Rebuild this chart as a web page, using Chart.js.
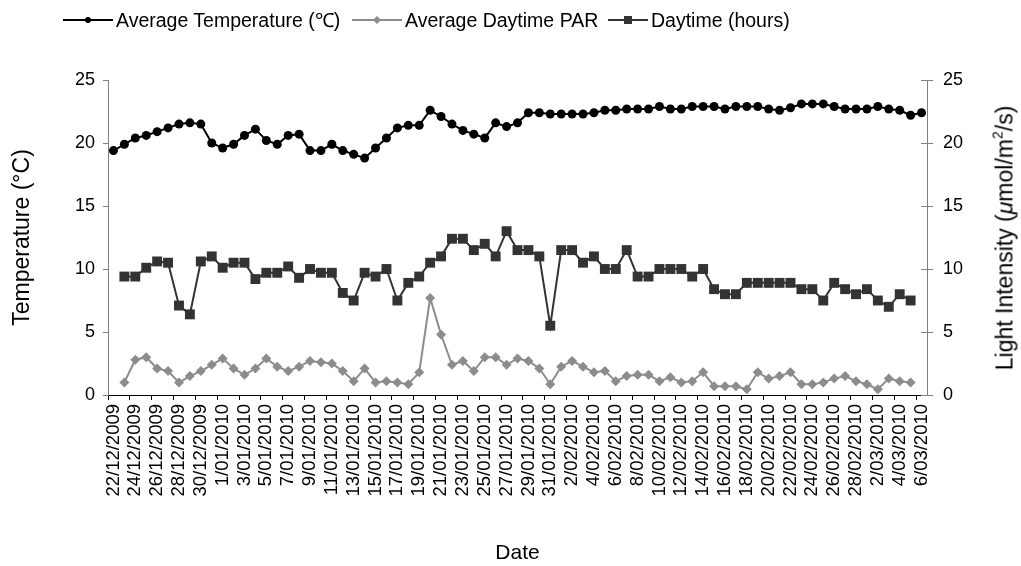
<!DOCTYPE html>
<html>
<head>
<meta charset="utf-8">
<script src="https://cdn.jsdelivr.net/npm/chart.js@4.4.1/dist/chart.umd.min.js"></script>
<style>
  html, body { margin: 0; padding: 0; background: #fff; }
  #wrap { position: relative; width: 1021px; height: 566px; }
  #lineChart { position: absolute; left: 0; top: 0; }
  .item {
    position: absolute; top: 8px; height: 24px; line-height: 24px;
    font-family: 'Liberation Sans', Arial, sans-serif; font-size: 19.5px; color: #000;
    white-space: nowrap; display: flex; align-items: center;
  }
  .item svg { margin-right: 3px; }
  #rightTitle {
    position: absolute; left: 1005px; top: 238px;
    transform: translate(-50%, -50%) rotate(-90deg);
    font-family: 'Liberation Sans', Arial, sans-serif; font-size: 23px; color: #000;
    white-space: nowrap;
  }
  #rightTitle sup { font-size: 14px; vertical-align: 10px; line-height: 0; }
</style>
</head>
<body>
<div id="wrap">
  <canvas id="lineChart" width="1021" height="566"></canvas>
  <div class="item" style="left:63px">
    <svg width="50" height="12"><line x1="0" y1="6" x2="50" y2="6" stroke="#000" stroke-width="2"/><circle cx="25" cy="6" r="3" fill="#000"/></svg>Average Temperature (℃)
  </div>
  <div class="item" style="left:352px">
    <svg width="50" height="12"><line x1="0" y1="6" x2="50" y2="6" stroke="#8c8c8c" stroke-width="2"/><path d="M25 2 L29 6 L25 10 L21 6 Z" fill="#8c8c8c"/></svg>Average Daytime PAR
  </div>
  <div class="item" style="left:608px">
    <svg width="40" height="12"><line x1="0" y1="6" x2="40" y2="6" stroke="#333" stroke-width="2"/><rect x="16" y="2" width="8" height="8" fill="#333"/></svg>Daytime (hours)
  </div>
  <div id="rightTitle">Light Intensity (<i>μ</i>mol/m<sup>2</sup>/s)</div>
</div>
<script>
const dates = [
  '22/12/2009', '23/12/2009', '24/12/2009', '25/12/2009', '26/12/2009', '27/12/2009', '28/12/2009', '29/12/2009', '30/12/2009', '31/12/2009',
  '1/01/2010', '2/01/2010', '3/01/2010', '4/01/2010', '5/01/2010', '6/01/2010', '7/01/2010', '8/01/2010', '9/01/2010', '10/01/2010',
  '11/01/2010', '12/01/2010', '13/01/2010', '14/01/2010', '15/01/2010', '16/01/2010', '17/01/2010', '18/01/2010', '19/01/2010', '20/01/2010',
  '21/01/2010', '22/01/2010', '23/01/2010', '24/01/2010', '25/01/2010', '26/01/2010', '27/01/2010', '28/01/2010', '29/01/2010', '30/01/2010',
  '31/01/2010', '1/02/2010', '2/02/2010', '3/02/2010', '4/02/2010', '5/02/2010', '6/02/2010', '7/02/2010', '8/02/2010', '9/02/2010',
  '10/02/2010', '11/02/2010', '12/02/2010', '13/02/2010', '14/02/2010', '15/02/2010', '16/02/2010', '17/02/2010', '18/02/2010', '19/02/2010',
  '20/02/2010', '21/02/2010', '22/02/2010', '23/02/2010', '24/02/2010', '25/02/2010', '26/02/2010', '27/02/2010', '28/02/2010', '1/03/2010',
  '2/03/2010', '3/03/2010', '4/03/2010', '5/03/2010', '6/03/2010'
];

// average temperature (C), left axis
const avgTemperature = [
  19.4, 19.9, 20.4, 20.6, 20.9, 21.2, 21.5, 21.6, 21.5, 20.0,
  19.6, 19.9, 20.6, 21.1, 20.2, 19.9, 20.6, 20.7, 19.4, 19.4,
  19.9, 19.4, 19.1, 18.8, 19.6, 20.4, 21.2, 21.4, 21.4, 22.6,
  22.1, 21.5, 21.0, 20.7, 20.4, 21.6, 21.3, 21.6, 22.4, 22.4,
  22.3, 22.3, 22.3, 22.3, 22.4, 22.6, 22.6, 22.7, 22.7, 22.7,
  22.9, 22.7, 22.7, 22.9, 22.9, 22.9, 22.7, 22.9, 22.9, 22.9,
  22.7, 22.6, 22.8, 23.1, 23.1, 23.1, 22.9, 22.7, 22.7, 22.7,
  22.9, 22.7, 22.6, 22.2, 22.4
];

// average daytime PAR, right axis
const avgDaytimePar = [
  null, 1.0, 2.8, 3.0, 2.1, 1.9, 1.0, 1.5, 1.9, 2.4,
  2.9, 2.1, 1.6, 2.1, 2.9, 2.25, 1.9, 2.25, 2.7, 2.6,
  2.5, 1.9, 1.1, 2.1, 1.0, 1.1, 1.0, 0.85, 1.8, 7.7,
  4.8, 2.4, 2.7, 1.9, 3.0, 3.0, 2.4, 2.9, 2.7, 2.1,
  0.85, 2.25, 2.7, 2.25, 1.8, 1.9, 1.1, 1.5, 1.6, 1.6,
  1.1, 1.4, 1.0, 1.1, 1.8, 0.7, 0.7, 0.7, 0.45, 1.8,
  1.3, 1.5, 1.8, 0.85, 0.85, 1.0, 1.3, 1.5, 1.1, 0.85,
  0.45, 1.3, 1.1, 1.0, null
];

// daytime length (hours), left axis
const daytimeHours = [
  null, 9.4, 9.4, 10.1, 10.6, 10.5, 7.1, 6.4, 10.6, 11.0,
  10.1, 10.5, 10.5, 9.2, 9.7, 9.7, 10.2, 9.3, 10.0, 9.7,
  9.7, 8.1, 7.5, 9.7, 9.4, 10.0, 7.5, 8.9, 9.4, 10.5,
  11.0, 12.4, 12.4, 11.5, 12.0, 11.0, 13.0, 11.5, 11.5, 11.0,
  5.5, 11.5, 11.5, 10.5, 11.0, 10.0, 10.0, 11.5, 9.4, 9.4,
  10.0, 10.0, 10.0, 9.4, 10.0, 8.4, 8.0, 8.0, 8.9, 8.9,
  8.9, 8.9, 8.9, 8.4, 8.4, 7.5, 8.9, 8.4, 8.0, 8.4,
  7.5, 7.0, 8.0, 7.5, null
];

const axisMin = 0;
const axisMax = 25;
const axisStep = 5;

const fontFamily = "'Liberation Sans', Arial, sans-serif";

// right axis ticks cross the axis line, draw the inner half
const innerTicks = {
    id: 'innerTicks',
    afterDraw: (chart) => {
        const scale = chart.scales.y1;
        const ctx = chart.ctx;
        ctx.save();
        ctx.strokeStyle = '#808080';
        ctx.lineWidth = 1;
        scale.ticks.forEach((tick) => {
            const y = Math.round(scale.getPixelForValue(tick.value)) + 0.5;
            ctx.beginPath();
            ctx.moveTo(scale.left - 6, y);
            ctx.lineTo(scale.left, y);
            ctx.stroke();
        });
        ctx.restore();
    }
};

const ctx = document.getElementById('lineChart').getContext('2d');
new Chart(ctx, {
    type: 'line',
    data: {
        labels: dates,
        datasets: [
            {
                label: 'Average Temperature (℃)',
                data: avgTemperature,
                yAxisID: 'y',
                borderColor: '#000000',
                backgroundColor: '#000000',
                borderWidth: 2,
                pointStyle: 'circle',
                pointRadius: 4.5,
                pointBorderWidth: 0,
            },
            {
                label: 'Average Daytime PAR',
                data: avgDaytimePar,
                yAxisID: 'y1',
                borderColor: '#8c8c8c',
                backgroundColor: '#8c8c8c',
                borderWidth: 2,
                pointStyle: 'rectRot',
                pointRadius: 5,
                pointBorderWidth: 0,
            },
            {
                label: 'Daytime (hours)',
                data: daytimeHours,
                yAxisID: 'y',
                borderColor: '#333333',
                backgroundColor: '#333333',
                borderWidth: 2,
                pointStyle: 'rect',
                pointRadius: 7,
                pointBorderWidth: 0,
            },
        ],
    },
    options: {
        responsive: false,
        animation: false,
        devicePixelRatio: 1,
        layout: { padding: { top: 80, left: 0, right: 0, bottom: 0 } },
        plugins: {
            legend: { display: false },
            tooltip: { enabled: false },
        },
        scales: {
            x: {
                type: 'category',
                offset: true,
                afterFit: (scale) => { scale.height = 171; },
                border: { display: true, color: '#000000', width: 1 },
                grid: {
                    offset: true,
                    drawOnChartArea: false,
                    drawTicks: true,
                    tickLength: 5,
                    color: (c) => (c.index % 2 === 0 ? '#000000' : 'rgba(0,0,0,0)'),
                },
                ticks: {
                    autoSkip: false,
                    minRotation: 90,
                    maxRotation: 90,
                    padding: 4,
                    color: '#000000',
                    font: { family: fontFamily, size: 18.5 },
                    callback: (value, index) => (index % 2 === 0 ? dates[index] : ''),
                },
                title: {
                    display: true,
                    text: 'Date',
                    color: '#000000',
                    font: { family: fontFamily, size: 21 },
                    padding: { top: 0, bottom: 0 },
                },
            },
            y: {
                position: 'left',
                min: axisMin,
                max: axisMax,
                afterFit: (scale) => { scale.width = 108; },
                border: { display: true, color: '#808080', width: 1 },
                grid: { drawOnChartArea: false, tickLength: 5, color: '#808080' },
                ticks: {
                    stepSize: axisStep,
                    padding: 8,
                    color: '#000000',
                    font: { family: fontFamily, size: 18 },
                },
                title: {
                    display: true,
                    text: 'Temperature (°C)',
                    color: '#000000',
                    font: { family: fontFamily, size: 23 },
                    padding: { top: 9, bottom: 0 },
                },
            },
            y1: {
                position: 'right',
                min: axisMin,
                max: axisMax,
                afterFit: (scale) => { scale.width = 94; },
                border: { display: true, color: '#808080', width: 1 },
                grid: { drawOnChartArea: false, tickLength: 6, color: '#808080' },
                ticks: {
                    stepSize: axisStep,
                    padding: 10,
                    color: '#000000',
                    font: { family: fontFamily, size: 18 },
                },
                title: { display: false },
            },
        },
    },
    plugins: [innerTicks],
});
</script>
</body>
</html>
